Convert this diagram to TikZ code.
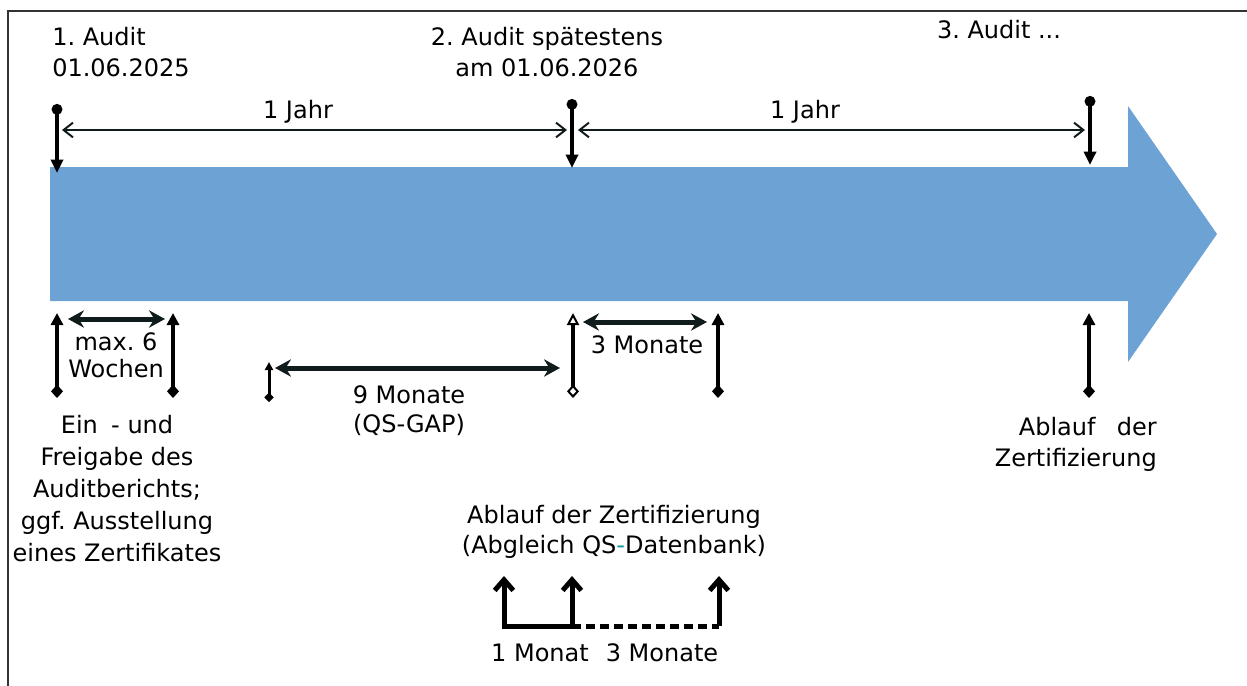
\documentclass[tikz,border=0pt]{standalone}
\usepackage{fontspec}
\setmainfont{DejaVu Sans}
\usetikzlibrary{arrows.meta}
\frenchspacing

\definecolor{balken}{RGB}{109,163,212}
\definecolor{linie}{RGB}{16,28,28}
\definecolor{strich}{RGB}{20,150,150}

\tikzset{
	txt/.style={font=\fontsize{18}{#1}\selectfont, inner sep=0pt, align=center},
	txt/.default=23.25pt,
	audit/.style={line width=3pt, {Circle[length=8pt]}-{Triangle[width=9pt,length=10pt]}},
	jahr/.style={line width=1.5pt, draw=linie, {Straight Barb[width=11pt,length=7pt]}-{Straight Barb[width=11pt,length=7pt]}},
	frist/.style={line width=3.75pt, draw=linie, {Stealth[width=13pt,length=12pt,inset=4pt]}-{Stealth[width=13pt,length=12pt,inset=4pt]}},
	marke/.style={line width=3pt, {Diamond[width=9pt,length=10pt]}-{Triangle[width=9pt,length=9pt]}},
	markeoffen/.style={line width=3pt, {Diamond[open,width=9pt,length=10pt,line width=1.5pt]}-{Triangle[open,width=9pt,length=9pt,line width=1.5pt]}},
	markeklein/.style={line width=2.25pt, {Diamond[width=7pt,length=7pt]}-{Triangle[width=6pt,length=6pt]}},
	monat/.style={line width=3.75pt, line join=miter},
	monatpfeil/.style={monat, -{Straight Barb[width=14pt,length=8pt]}}
}

\begin{document}
\begin{tikzpicture}[x=0.75pt, y=-0.75pt]
	\useasboundingbox (0,0) rectangle (1247,686);
	% Rahmen
	\draw[line width=1.5pt, black!80] (8,686) -- (8,11) -- (1247,11);
	% Zeitstrahl
	\fill[balken] (50,167) -- (1128,167) -- (1128,106) -- (1217,234) --
	(1128,362) -- (1128,301) -- (50,301) -- cycle;

	% Audits oben
	\node[txt, align=left, anchor=north west] (audit1) at (52, 27) {1. Audit\\01.06.2025};
	\node[txt, anchor=north] (audit2) at (547, 27) {2. Audit spätestens\\am 01.06.2026};
	\node[txt, anchor=north] (audit3) at (999, 20) {3. Audit ...};
	\foreach \n/\x/\o/\u in {1/57/104/173, 2/572/99/168, 3/1090/96/165} {
		\coordinate (oben\n) at (\x, \o);
		\coordinate (spitze\n) at (\x, \u);
		\draw[audit] (oben\n) -- (spitze\n);
	}

	% Jahresabstaende
	\coordinate (j1l) at (62, 130);
	\coordinate (j1r) at (567, 130);
	\coordinate (j2l) at (578, 130);
	\coordinate (j2r) at (1085, 130);
	\draw[jahr] (j1l) -- (j1r);
	\draw[jahr] (j2l) -- (j2r);
	\node[txt, anchor=north] (jahr1) at (298, 100) {1 Jahr};
	\node[txt, anchor=north] (jahr2) at (805, 100) {1 Jahr};

	% Markierungen unten
	\foreach \n/\x in {a/57, b/173, c/718, d/1089} {
		\coordinate (fuss\n) at (\x, 398);
		\coordinate (kopf\n) at (\x, 313);
		\draw[marke] (fuss\n) -- (kopf\n);
	}
	\coordinate (fusso) at (573, 398);
	\coordinate (kopfo) at (573, 313);
	\draw[markeoffen] (fusso) -- (kopfo);
	\coordinate (fussk) at (269, 402);
	\coordinate (kopfk) at (269, 362);
	\draw[markeklein] (fussk) -- (kopfk);

	% Fristen
	\coordinate (wl) at (68, 319);
	\coordinate (wr) at (165, 319);
	\draw[frist] (wl) -- (wr);
	\node[txt=20.25pt, anchor=north] (wochen) at (116, 332) {max. 6\\Wochen};
	\coordinate (nl) at (275, 368);
	\coordinate (nr) at (560, 368);
	\draw[frist] (nl) -- (nr);
	\node[txt=21.75pt, anchor=north] (gap) at (409, 385) {9 Monate\\(QS-GAP)};
	\coordinate (dl) at (583, 322);
	\coordinate (dr) at (707, 322);
	\draw[frist] (dl) -- (dr);
	\node[txt, anchor=north] (drei) at (647, 335) {3 Monate};

	% Beschreibungen
	\node[txt=24pt, anchor=north] (freigabe) at (117, 415) {Ein\hspace{10pt}- und\\Freigabe des\\Auditberichts;\\ggf. Ausstellung\\eines Zertifikates};
	\node[txt, align=right, anchor=north east] (ablauf) at (1157, 417) {Ablauf\hspace{16pt}der\\Zertifizierung};
	\node[txt=22.5pt, anchor=north] (abgleich) at (614, 505) {Ablauf der Zertifizierung\\(Abgleich QS{\color{strich}-}Datenbank)};

	% Monatsfristen
	\coordinate (m1) at (504, 626);
	\coordinate (m2) at (572, 626);
	\coordinate (m3) at (719, 626);
	\coordinate (p1) at (504, 576);
	\coordinate (p2) at (572, 576);
	\coordinate (p3) at (719, 576);
	\draw[monatpfeil] (m2) -- (m1) -- (p1);
	\draw[monatpfeil] (m2) -- (p2);
	\draw[monat, dash pattern=on 7pt off 3.5pt] (m2) -- (m3);
	\draw[monatpfeil] (m3) -- (p3);
	\node[txt, anchor=base] (monat1) at (540, 661) {1 Monat};
	\node[txt, anchor=base] (monat3) at (662, 661) {3 Monate};
\end{tikzpicture}
\end{document}
